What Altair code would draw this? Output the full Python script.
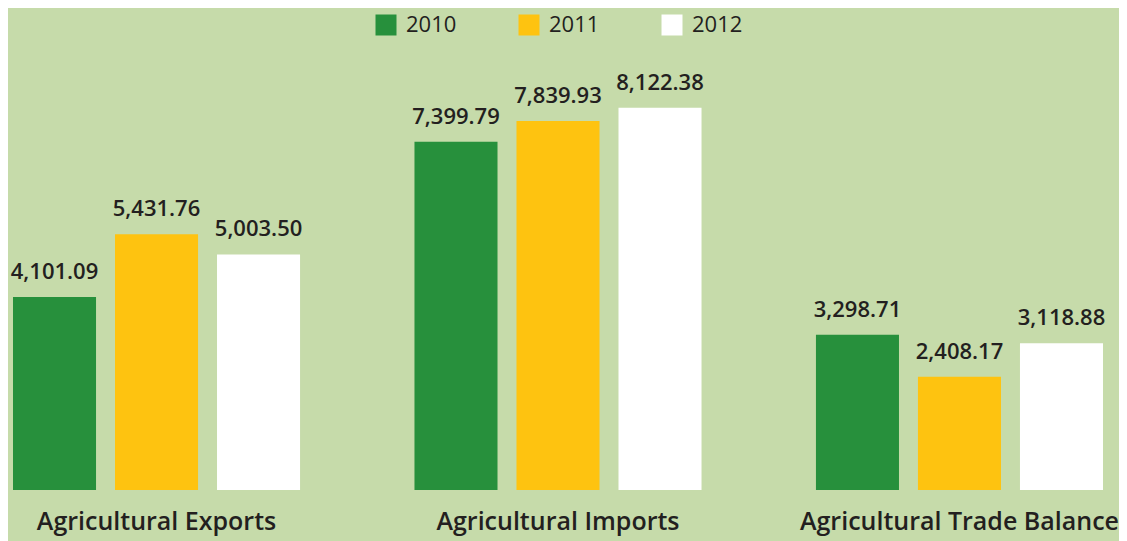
import altair as alt
import pandas as pd

categories = ["Agricultural Exports", "Agricultural Imports", "Agricultural Trade Balance"]
years = ["2010", "2011", "2012"]
v2010 = [4101.09, 7399.79, 3298.71]
v2011 = [5431.76, 7839.93, 2408.17]
v2012 = [5003.50, 8122.38, 3118.88]
colors = ["#27903c", "#fec310", "#ffffff"]

rows = []
for i, c in enumerate(categories):
    for y, vals in zip(years, [v2010, v2011, v2012]):
        rows.append({"cat": c, "year": y, "value": vals[i]})
df = pd.DataFrame(rows)

FONT = "Open Sans"
TXT = "#231f20"

x = alt.X("cat:N", sort=categories,
          scale=alt.Scale(paddingInner=0.285, paddingOuter=0.01245),
          axis=alt.Axis(title=None, domain=False, ticks=False, labelAngle=0,
                        labelFontSize=25, labelFont=FONT, labelFontWeight=600,
                        labelColor=TXT, labelPadding=19, labelLimit=500))
xo = alt.XOffset("year:N", sort=years, scale=alt.Scale(paddingInner=0.186, paddingOuter=0))
y = alt.Y("value:Q", scale=alt.Scale(domain=[0, 10240], nice=False), axis=None)

base = alt.Chart(df).encode(x=x, xOffset=xo, y=y)

bars = base.mark_bar(strokeWidth=0).encode(
    color=alt.Color("year:N", sort=years,
                    scale=alt.Scale(domain=years, range=colors),
                    legend=alt.Legend(title=None, orient="none", direction="horizontal",
                                      legendX=367, legendY=6,
                                      symbolType="square", symbolSize=441,
                                      symbolStrokeWidth=0, symbolOpacity=1,
                                      labelFontSize=22, labelFont=FONT, labelFontWeight=500,
                                      labelColor=TXT, labelOffset=9, columnPadding=61))
)

labels = base.mark_text(dy=-18, baseline="alphabetic", fontSize=22, font=FONT,
                        fontWeight=600, color=TXT).encode(
    text=alt.Text("value:Q", format=",.2f")
)

chart = (bars + labels).properties(
    width=1100, height=482,
    padding={"left": 0, "top": 0, "right": 0, "bottom": 14},
).configure(
    background="#c6dbaa"
).configure_view(stroke=None)

chart.save("out.html", embed_options={"renderer": "svg", "actions": False})
